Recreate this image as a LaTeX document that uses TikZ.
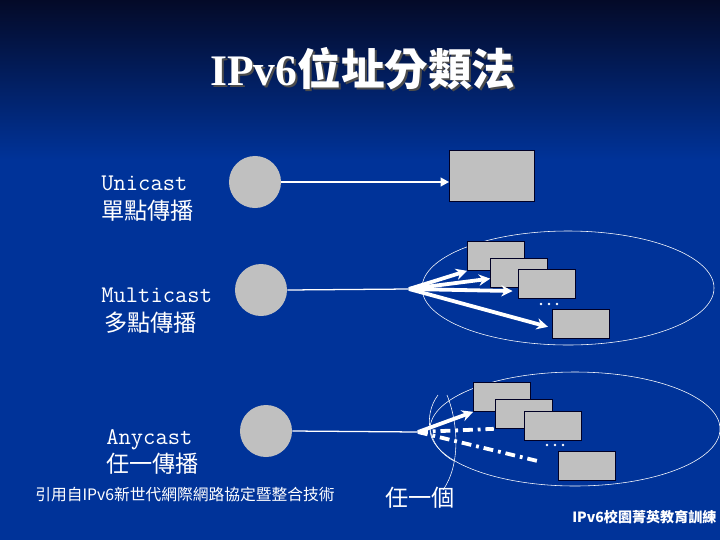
\documentclass[tikz,border=0pt]{standalone}
\usepackage{fontspec}
\newfontfamily\cjk{Noto Sans CJK TC}
\newfontfamily\titlefont{Liberation Serif}
\usetikzlibrary{positioning,arrows.meta}
\definecolor{bgblue}{RGB}{0,51,153}
\definecolor{bgtop}{RGB}{4,10,40}
\definecolor{boxgray}{RGB}{192,192,192}
\tikzset{
  host/.style={circle, fill=boxgray, minimum size=1.3cm, inner sep=0},
  box/.style={rectangle, fill=boxgray, draw=black!85!blue, semithick, minimum width=1.42cm, minimum height=0.72cm, inner sep=0},
  castname/.style={text=white, anchor=base west, inner sep=0, font=\fontsize{17}{20}\selectfont\ttfamily},
  castzh/.style={text=white, anchor=base west, inner sep=0, font=\fontsize{16.5}{20}\selectfont\cjk},
  fan/.style={draw=white, line width=2.7pt, -{Stealth[length=8pt,width=8pt]}},
  dashfan/.style={draw=white, line width=2.7pt, dash pattern=on 7pt off 3.5pt on 2pt off 3.5pt},
  thinline/.style={draw=white, line width=0.9pt}
}
\begin{document}
\begin{tikzpicture}[x=0.025cm, y=-0.025cm]
  % background
  \fill[bgblue] (0,0) rectangle (720,540);
  \shade[top color=bgtop, bottom color=bgblue] (0,0) rectangle (720,160);
  \useasboundingbox (0,0) rectangle (720,540);

  % title
  \node[anchor=base west, inner sep=0, text=black!70] at (212,87)
    {\fontsize{31}{36}\selectfont\bfseries\titlefont IPv6\cjk 位址分類法};
  \node[anchor=base west, inner sep=0, text=white] (title) at (210,85)
    {\fontsize{31}{36}\selectfont\bfseries\titlefont IPv6\cjk 位址分類法};

  % unicast
  \node[castname] (uniname) at (101,190) {Unicast};
  \node[castzh] (unizh) at (101,219) {單點傳播};
  \node[host] (unisrc) at (255,182) {};
  \node[box, minimum width=2.12cm, minimum height=1.27cm] (unidst) at (492,176) {};
  \draw[draw=white, line width=1.6pt, -{Triangle[length=6pt,width=6pt]}] (unisrc.east) -- (unidst.west |- unisrc.east);

  % multicast
  \node[castname] (mulname) at (101,302) {Multicast};
  \node[castzh] (mulzh) at (104,331) {多點傳播};
  \node[host] (mulsrc) at (261,290) {};
  \draw[white, thin] (568,288) ellipse (146 and 57);
  \node[box] (m1) at (496,256) {};
  \node[box] (m2) at (519,273) {};
  \node[box] (m3) at (547,284) {};
  \node[box] (m4) at (581,324) {};
  \foreach \d in {0,1,2} {
    \fill[white] (541+8*\d,304) circle (1pt);
  };
  \coordinate (mtip) at (409,289);
  \draw[thinline] (mulsrc.east) -- (mtip);
  \path
    (mtip) edge[fan] (m1.south west)
    (mtip) edge[fan] ([yshift=-4pt]m2.west)
    (mtip) edge[fan] ([xshift=-4pt,yshift=-5pt]m3.west)
    (mtip) edge[fan] ([xshift=-3pt,yshift=-2pt]m4.west);

  % anycast
  \node[castname] (anyname) at (106,444) {Anycast};
  \node[castzh] (anyzh) at (106,472) {任一傳播};
  \node[host] (anysrc) at (266,431) {};
  \draw[white, thin] (575,429) ellipse (145 and 57);
  \node[box] (a1) at (502,397) {};
  \node[box] (a2) at (524,414) {};
  \node[box] (a3) at (553,426) {};
  \node[box] (a4) at (587,466) {};
  \foreach \d in {0,1,2} {
    \fill[white] (547+8*\d,445) circle (1pt);
  };
  \coordinate (atip) at (418,432);
  \draw[thinline] (anysrc.east) -- (atip);
  \draw[fan] (atip) -- (a1.south west);
  \draw[dashfan] (atip) -- ([xshift=-1pt]a2.south west);
  \draw[dashfan, shorten >=15pt] (atip) -- (a4.west);
  \draw[white, thin] (438,395) .. controls (423,415) and (427,447) .. (454,461);
  \coordinate (ptop) at (447,395);
  \coordinate (pend) at (443,490);
  \draw[white, thin] (ptop) .. controls (459,425) and (460,466) .. (pend);

  % footnotes
  \node[text=white, anchor=base west, inner sep=0, font=\fontsize{11.2}{13}\selectfont\cjk] (source) at (35,500)
    {引用自IPv6新世代網際網路協定暨整合技術};
  \node[text=white, anchor=base west, inner sep=0, font=\fontsize{16.5}{20}\selectfont\cjk] (anyone) at (385,506) {任一個};
  \node[text=white, anchor=base west, inner sep=0, font=\fontsize{10}{12}\selectfont\cjk\bfseries] (course) at (572,522)
    {IPv6校園菁英教育訓練};
\end{tikzpicture}
\end{document}
